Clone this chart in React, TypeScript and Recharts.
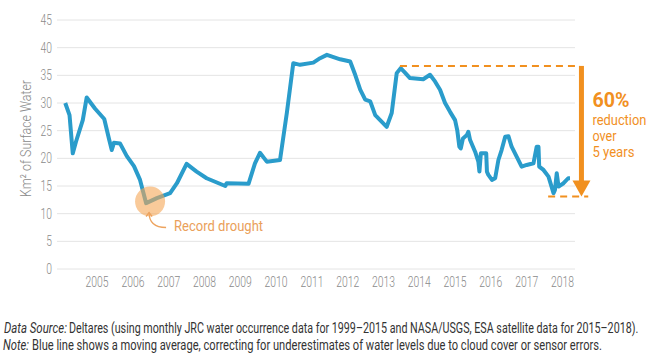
import React, { useLayoutEffect, useRef, useState } from 'react';
import {
  LineChart,
  Line,
  XAxis,
  YAxis,
  CartesianGrid,
  ReferenceLine,
  ReferenceDot,
} from 'recharts';

// moving average of surface water
const years: number[] = [
  2004.11, 2004.23, 2004.32, 2004.41, 2004.6, 2004.71, 2004.94, 2005.2, 2005.34, 2005.41,
  2005.47, 2005.64, 2005.83, 2006.03, 2006.2, 2006.37, 2006.67, 2007.04, 2007.23, 2007.5,
  2007.78, 2008.06, 2008.58, 2008.62, 2009.23, 2009.41, 2009.55, 2009.74, 2010.11, 2010.3,
  2010.48, 2010.67, 2011.04, 2011.23, 2011.42, 2011.79, 2012.07, 2012.21, 2012.35, 2012.49,
  2012.63, 2012.77, 2013.09, 2013.23, 2013.37, 2013.48, 2013.6, 2013.74, 2014.11, 2014.3,
  2014.44, 2014.58, 2014.72, 2014.86, 2015.0, 2015.06, 2015.12, 2015.16, 2015.22, 2015.33,
  2015.37, 2015.42, 2015.56, 2015.65, 2015.68, 2015.72, 2015.87, 2015.89, 2015.93, 2016.03,
  2016.12, 2016.21, 2016.3, 2016.4, 2016.49, 2016.58, 2016.72, 2016.86, 2017.0, 2017.19,
  2017.28, 2017.33, 2017.35, 2017.47, 2017.61, 2017.75, 2017.79, 2017.84, 2017.89, 2018.03,
  2018.16, 2018.21,
];

const surfaceWater: number[] = [
  30.0, 27.8, 20.9, 23.0, 26.9, 31.0, 29.0, 27.1, 23.3, 21.5,
  22.8, 22.7, 20.4, 18.6, 16.1, 11.9, 12.8, 13.7, 15.5, 19.0,
  17.6, 16.4, 15.0, 15.5, 15.4, 19.1, 21.0, 19.4, 19.7, 28.2,
  37.2, 36.9, 37.3, 38.1, 38.7, 37.9, 37.5, 35.1, 32.4, 30.6,
  30.3, 27.8, 25.7, 28.2, 35.4, 36.3, 35.5, 34.5, 34.3, 35.1,
  33.9, 32.4, 30.0, 28.4, 26.9, 25.1, 22.1, 21.8, 23.6, 24.2,
  24.8, 23.3, 21.2, 19.4, 17.6, 20.9, 20.9, 17.6, 17.0, 16.1,
  16.4, 19.7, 21.5, 23.9, 24.0, 22.1, 20.3, 18.5, 18.8, 19.1,
  22.1, 22.1, 18.5, 17.9, 16.7, 13.7, 14.3, 17.3, 14.9, 15.5,
  16.4, 16.4,
];

const yearTicks: number[] = [
  2005, 2006, 2007, 2008, 2009, 2010, 2011, 2012, 2013, 2014, 2015, 2016, 2017, 2018,
];
const valueTicks: number[] = [0, 5, 10, 15, 20, 25, 30, 35, 40, 45];

// annotation values
const droughtPoint = { year: 2006.48, value: 12.2 };
const peakLevel = 36.7;
const lowLevel = 13.1;
const peakLineStart = 2013.46;
const lowLineStart = 2017.6;
const lineEnd = 2018.49;
const lowLineEnd = 2018.72;
const arrowYear = 2018.53;

const data = years.map((year, i) => ({ year, value: surfaceWater[i] }));

const BLUE = '#2a9ccb';
const ORANGE = '#f1901f';
const GREY = '#8a8a8a';
const FONT = 'Roboto, "Liberation Sans", sans-serif';

// the reference uses a condensed face, so squeeze text to the measured widths
const fit = { lengthAdjust: 'spacingAndGlyphs' as const };

// footer text: measure, then scale horizontally so it spans the given width
function FittedText({ x, y, width, italic, children }: any) {
  const ref = useRef<SVGTextElement>(null);
  const [sx, setSx] = useState(1);
  useLayoutEffect(() => {
    if (ref.current) {
      const w = ref.current.getComputedTextLength();
      if (w > 0) setSx(width / w);
    }
  }, [width]);
  return (
    <text
      ref={ref}
      x={0}
      y={0}
      transform={`translate(${x} ${y}) scale(${sx} 1)`}
      fontStyle={italic ? 'italic' : 'normal'}
    >
      {children}
    </text>
  );
}

const YearTick = (props: any) => {
  const { x, y, payload } = props;
  return (
    <text x={x} y={y} dy="0.71em" textAnchor="middle" fill={GREY} fontSize={14} fontFamily={FONT} fontWeight={300} textLength={23} {...fit}>
      {payload.value}
    </text>
  );
};

const ValueTick = (props: any) => {
  const { x, y, payload } = props;
  const label = String(payload.value);
  return (
    <text x={x} y={y} dy="0.355em" textAnchor="end" fill={GREY} fontSize={14} fontFamily={FONT} fontWeight={300} textLength={label.length * 5.7} {...fit}>
      {label}
    </text>
  );
};

const DroughtMark = (props: any) => {
  const { cx, cy } = props;
  if (cx == null || cy == null) return null;
  return (
    <g>
      <circle cx={cx} cy={cy} r={15} fill="#f5a656" fillOpacity={0.6} />
      <path
        d={`M ${cx - 1} ${cy + 11} Q ${cx - 1} ${cy + 26} ${cx + 16} ${cy + 26}`}
        fill="none"
        stroke="#eda35e"
        strokeWidth={1.3}
      />
      <path
        d={`M ${cx - 4} ${cy + 15} L ${cx - 1} ${cy + 11} L ${cx + 2} ${cy + 15}`}
        fill="none"
        stroke="#eda35e"
        strokeWidth={1.3}
      />
      <text x={cx + 24} y={cy + 30} fill="#eaa05a" fontSize={15} fontFamily={FONT} textLength={89} {...fit}>
        Record drought
      </text>
    </g>
  );
};

const ReductionArrow = (props: any) => {
  const { x1, y1, y2 } = props;
  if (x1 == null) return null;
  const tx = x1 + 11;
  return (
    <g>
      <line x1={x1} y1={y1} x2={x1} y2={y2 - 12} stroke={ORANGE} strokeWidth={5} />
      <polygon
        points={`${x1 - 9},${y2 - 16} ${x1 + 9},${y2 - 16} ${x1},${y2}`}
        fill={ORANGE}
      />
      <text x={tx} y={y1 + 41} fill={ORANGE} fontSize={20} fontWeight="bold" fontFamily={FONT} textLength={37} {...fit}>
        60%
      </text>
      <text x={tx} y={y1 + 59} fill={ORANGE} fontSize={14} fontFamily={FONT} textLength={54} {...fit}>
        reduction
      </text>
      <text x={tx} y={y1 + 75.5} fill={ORANGE} fontSize={14} fontFamily={FONT} textLength={24} {...fit}>
        over
      </text>
      <text x={tx} y={y1 + 91} fill={ORANGE} fontSize={14} fontFamily={FONT} textLength={42} {...fit}>
        5 years
      </text>
    </g>
  );
};

const AxisTitle = (props: any) => {
  const { viewBox } = props;
  const cx = viewBox.x + 26;
  const cy = viewBox.y + viewBox.height / 2 - 6;
  return (
    <text
      x={cx}
      y={cy}
      transform={`rotate(-90 ${cx} ${cy})`}
      textAnchor="middle"
      dominantBaseline="central"
      fill={GREY}
      fontSize={15}
      fontWeight={300}
      fontFamily={FONT}
      textLength={117}
      {...fit}
    >
      Km² of Surface Water
    </text>
  );
};

export default function App() {
  return (
    <div
      style={{
        position: 'fixed',
        left: 0,
        top: 0,
        width: 659,
        height: 362,
        background: '#fff',
        fontFamily: FONT,
      }}
    >
      <LineChart
        width={659}
        height={300}
        data={data}
        margin={{ top: 20, right: 84, bottom: 6, left: 0 }}
      >
        <CartesianGrid vertical={false} stroke="#e4e4e4" />
        <XAxis
          dataKey="year"
          type="number"
          domain={[2003.88, 2018.35]}
          ticks={yearTicks}
          interval={0}
          allowDataOverflow
          axisLine={false}
          tickLine={false}
          tick={YearTick}
          height={25}
        />
        <YAxis
          domain={[0, 45]}
          ticks={valueTicks}
          interval={0}
          width={57}
          axisLine={false}
          tickLine={false}
          tickSize={5}
          tickMargin={0}
          tick={ValueTick}
          label={{ content: AxisTitle }}
        />
        <Line
          type="linear"
          dataKey="value"
          stroke={BLUE}
          strokeWidth={4}
          strokeLinejoin="round"
          dot={false}
          isAnimationActive={false}
        />
        <ReferenceLine
          segment={[
            { x: peakLineStart, y: peakLevel },
            { x: lineEnd, y: peakLevel },
          ]}
          stroke={ORANGE}
          strokeWidth={2}
          strokeDasharray="7 5"
          ifOverflow="visible"
        />
        <ReferenceLine
          segment={[
            { x: lowLineStart, y: lowLevel },
            { x: lowLineEnd, y: lowLevel },
          ]}
          stroke={ORANGE}
          strokeWidth={2}
          strokeDasharray="7 5"
          ifOverflow="visible"
        />
        <ReferenceLine
          segment={[
            { x: arrowYear, y: peakLevel },
            { x: arrowYear, y: lowLevel },
          ]}
          ifOverflow="visible"
          shape={ReductionArrow}
        />
        <ReferenceDot
          x={droughtPoint.year}
          y={droughtPoint.value}
          r={15}
          ifOverflow="visible"
          shape={DroughtMark}
        />
      </LineChart>
      <svg
        width={659}
        height={62}
        style={{ position: 'absolute', left: 0, top: 300 }}
        fontFamily={FONT}
        fontSize={14}
        fill="#333"
      >
        <FittedText x={4} y={33} width={63} italic>
          Data Source:
        </FittedText>
        <FittedText x={69} y={33} width={570}>
          Deltares (using monthly JRC water occurrence data for 1999–2015 and NASA/USGS, ESA
          satellite data for 2015–2018).
        </FittedText>
        <FittedText x={3} y={50} width={26} italic>
          Note:
        </FittedText>
        <FittedText x={32} y={50} width={571}>
          Blue line shows a moving average, correcting for underestimates of water levels due
          to cloud cover or sensor errors.
        </FittedText>
      </svg>
    </div>
  );
}
